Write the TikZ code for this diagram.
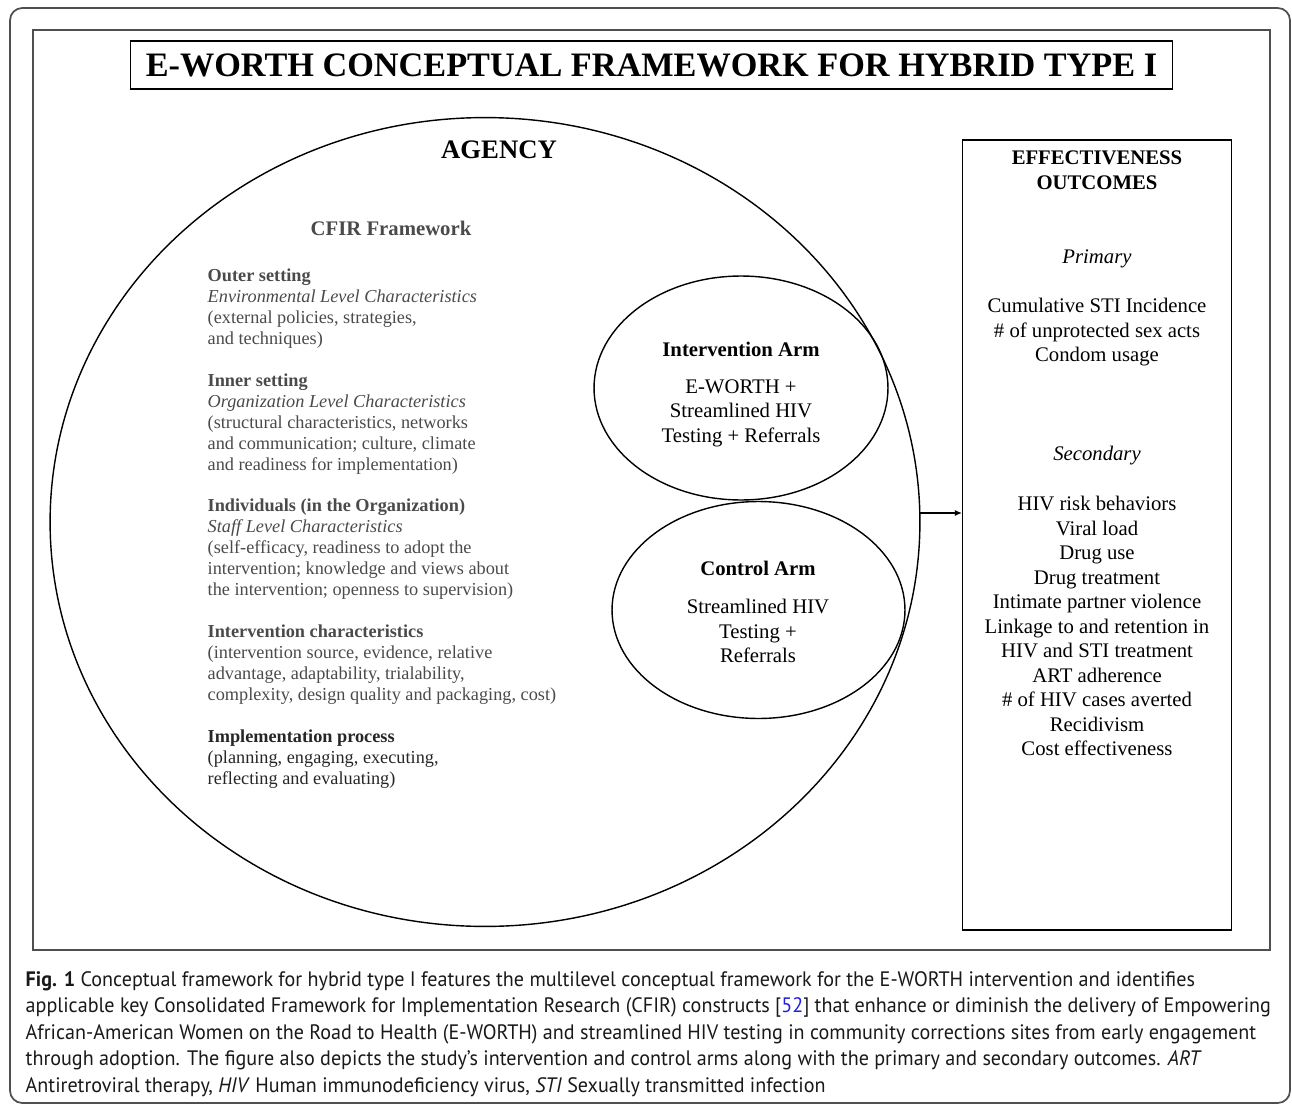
\documentclass[tikz,border=0pt]{standalone}
\usepackage{fontspec}
\setmainfont{Liberation Serif}
\newfontfamily\capfont[FakeStretch=0.962]{PT Sans}
\usepackage{tikz}
\usetikzlibrary{shapes.geometric, arrows.meta}
\definecolor{cfirgray}{HTML}{4A4A4A}
\definecolor{framegray}{HTML}{4F4F4F}
\definecolor{reflink}{HTML}{2020E0}
\def\outerframe{(10,8) rectangle (1290,1103)}
\def\innerframe{(33,30) rectangle (1270,950)}

\begin{document}
\begin{tikzpicture}[x=0.02cm, y=-0.02cm, line width=0.8pt,
	cfir/.style={anchor=west, align=left, inner sep=0, text=cfirgray, font=\fontsize{10.4}{11.9}\selectfont},
	arm/.style={ellipse, draw, inner sep=0, outer sep=0},
	head/.style={font=\fontsize{11.8}{14.1}\selectfont\bfseries, align=center},
	list/.style={font=\fontsize{11.8}{13.95}\selectfont, align=center}]
	\useasboundingbox (0,0) rectangle (1292,1105);
	\draw[framegray, line width=1pt, rounded corners=7pt] \outerframe;
	\draw[framegray, line width=1pt] \innerframe;

	\node[draw, line width=0.6pt, minimum width=20.86cm, minimum height=0.96cm, font=\fontsize{19.5}{22}\selectfont\bfseries] (title) at (651.5,65) {E-WORTH CONCEPTUAL FRAMEWORK FOR HYBRID TYPE I};

	\node[arm, minimum width=17.4cm, minimum height=16.18cm] (agency) at (485,522) {};
	\node[font=\fontsize{15.2}{18}\selectfont\bfseries] (agencyname) at (499,150) {AGENCY};
	\node[head, text=cfirgray] (cfir) at (391,228) {CFIR Framework};
	\node[cfir] (outer) at (207,308.5) {\textbf{Outer setting}\\\textit{Environmental Level Characteristics}\\(external policies, strategies,\\and techniques)};
	\node[cfir] (inner) at (207,424) {\textbf{Inner setting}\\\textit{Organization Level Characteristics}\\(structural characteristics, networks\\and communication; culture, climate\\and readiness for implementation)};
	\node[cfir] (staff) at (207,549) {\textbf{Individuals (in the Organization)}\\\textit{Staff Level Characteristics}\\(self-efficacy, readiness to adopt the\\intervention; knowledge and views about\\the intervention; openness to supervision)};
	\node[cfir] (character) at (207,664.5) {\textbf{Intervention characteristics}\\(intervention source, evidence, relative\\advantage, adaptability, trialability,\\complexity, design quality and packaging, cost)};
	\node[cfir, text=black!85] (process) at (207,759) {\textbf{Implementation process}\\(planning, engaging, executing,\\reflecting and evaluating)};

	\node[arm, minimum width=5.88cm, minimum height=4.48cm] (intarm) at (741,388) {};
	\node[head] (intname) at (741,349) {Intervention Arm};
	\node[list] (inttext) at (741,413) {E-WORTH +\\Streamlined HIV\\Testing + Referrals};
	\node[arm, minimum width=5.86cm, minimum height=4.34cm] (ctlarm) at (758.5,610) {};
	\node[head] (ctlname) at (758,568) {Control Arm};
	\node[list] (ctltext) at (758,631) {Streamlined HIV\\Testing +\\Referrals};

	\node[draw, minimum width=5.38cm, minimum height=15.8cm] (outcomes) at (1097,535) {};
	\node[head] (outname) at (1097,170) {EFFECTIVENESS\\OUTCOMES};
	\node[list] (primary) at (1097,258.5) {\textit{Primary}};
	\node[list] (primlist) at (1097,332.5) {Cumulative STI Incidence\\\# of unprotected sex acts\\Condom usage};
	\node[list] (secondary) at (1097,455.5) {\textit{Secondary}};
	\node[list] (seclist) at (1097,626) {HIV risk behaviors\\Viral load\\Drug use\\Drug treatment\\Intimate partner violence\\Linkage to and retention in\\HIV and STI treatment\\ART adherence\\\# of HIV cases averted\\Recidivism\\Cost effectiveness};

	\coordinate (arrowend) at (outcomes.west |- 0,513);
	\draw[line width=0.6pt, -{Latex[length=4pt, width=3.5pt]}] (agency.east |- arrowend) -- (arrowend);

	\node[anchor=west, align=left, inner sep=0, text=black!90, font=\capfont\fontsize{11.9}{15}\selectfont] (caption) at (25,1034) {\textbf{Fig. 1} Conceptual framework for hybrid type I features the multilevel conceptual framework for the E-WORTH intervention and identifies\\applicable key Consolidated Framework for Implementation Research (CFIR) constructs [\textcolor{reflink}{52}] that enhance or diminish the delivery of Empowering\\African-American Women on the Road to Health (E-WORTH) and streamlined HIV testing in community corrections sites from early engagement\\through adoption. The figure also depicts the study’s intervention and control arms along with the primary and secondary outcomes. \textit{ART}\\Antiretroviral therapy, \textit{HIV} Human immunodeficiency virus, \textit{STI} Sexually transmitted infection};
\end{tikzpicture}
\end{document}
